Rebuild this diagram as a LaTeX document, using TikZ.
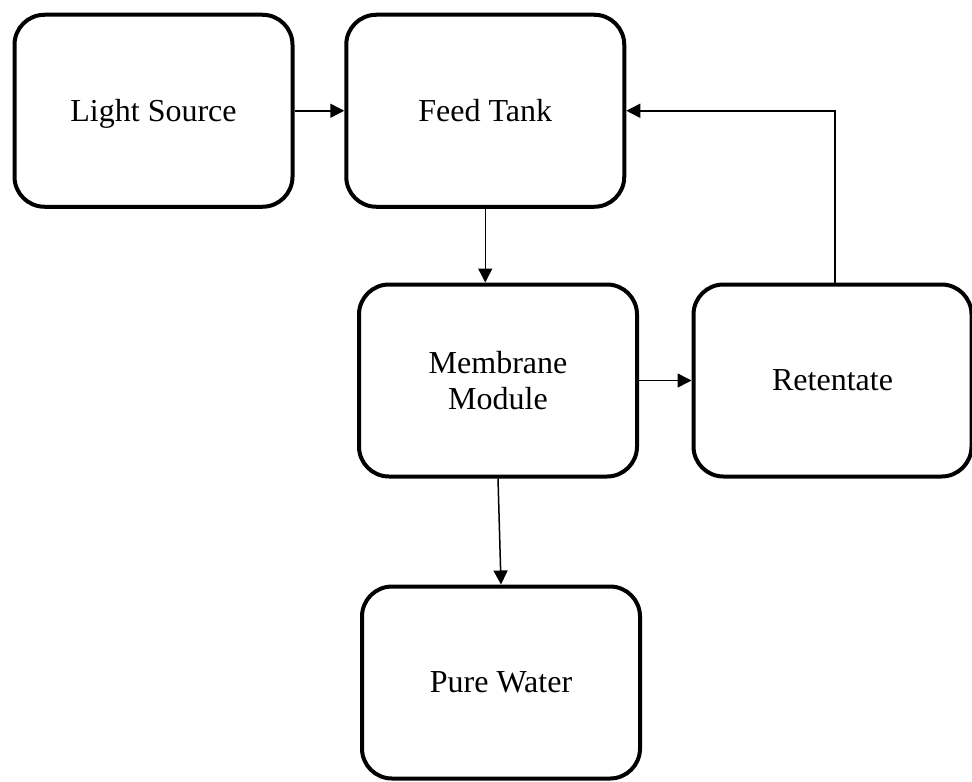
\documentclass[tikz,border=0pt]{standalone}
\usepackage{fontspec}
\setmainfont{Liberation Serif}
\usetikzlibrary{arrows.meta}
\begin{document}
\begin{tikzpicture}[x=0.5pt,y=-0.5pt,
  box/.style={draw, line width=2pt, rounded corners=15pt, minimum width=139pt, minimum height=96pt,
    align=center, inner sep=0pt, text depth=0pt, font=\fontsize{16}{18}\selectfont},
  conn/.style={line width=0.75pt, -{Triangle[length=7pt,width=7pt]}}]
\useasboundingbox (0,0) rectangle (972,781);
\node[box] (ls) at (153.5,110.75) {Light Source};
\node[box] (ft) at (485.25,110.75) {Feed Tank};
\node[box] (mm) at (498,380.5) {Membrane\\Module};
\node[box] (rt) at (832.5,380.5) {Retentate};
\node[box] (pw) at (501,682.5) {Pure Water};
\draw[conn] (ls.east) -- (ft.west);
\draw[conn] (ft.south) -- (ft.south |- mm.north);
\draw[conn] (mm.east) -- (rt.west);
\draw[conn] ([xshift=1.25pt]rt.north) |- (ft.east);
\draw[conn] (mm.south) -- (pw.north);
\end{tikzpicture}
\end{document}
